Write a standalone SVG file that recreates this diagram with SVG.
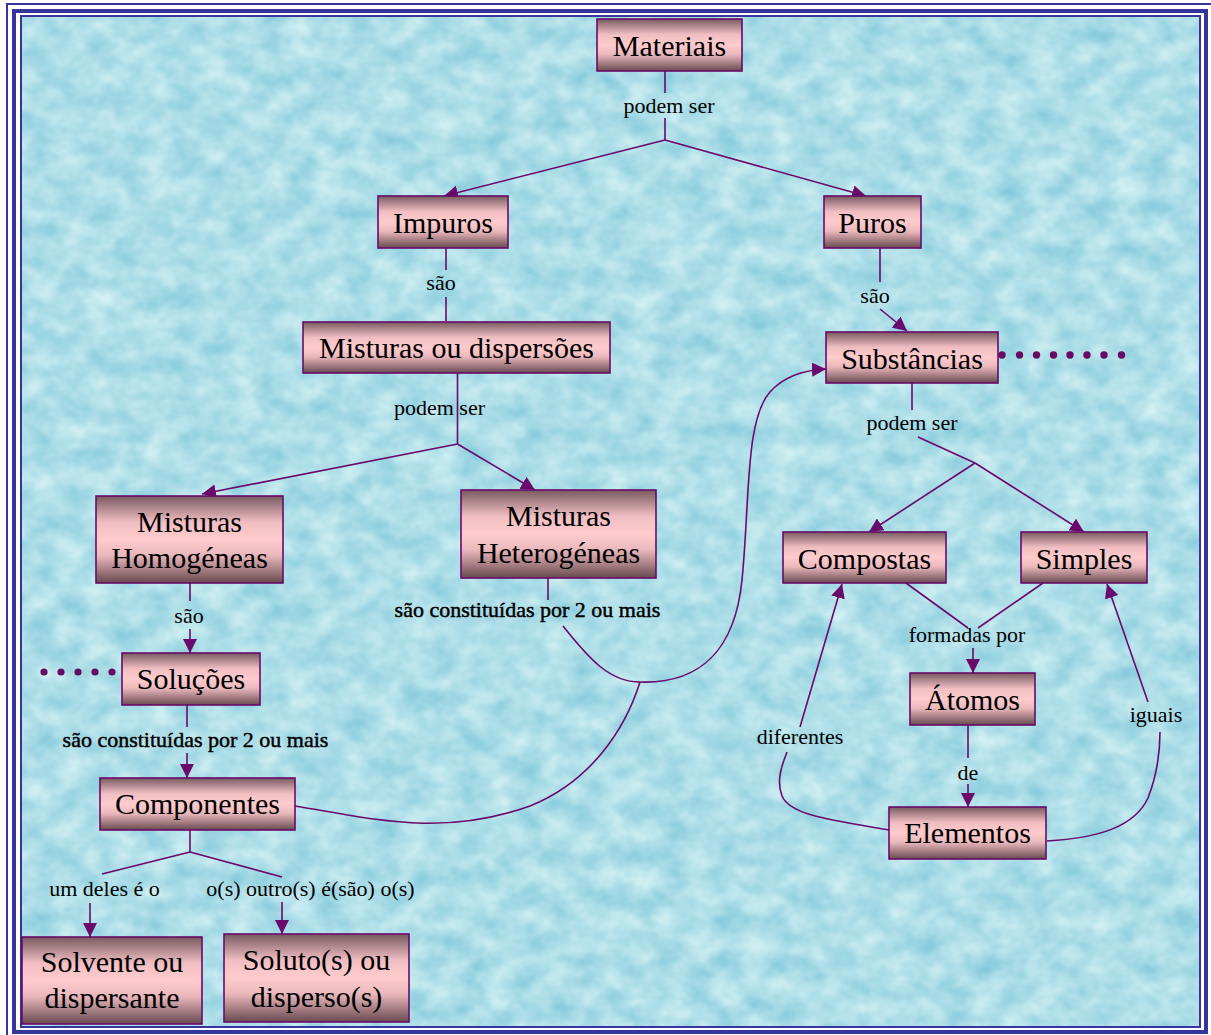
<svg xmlns="http://www.w3.org/2000/svg" width="1211" height="1035" viewBox="0 0 1211 1035">
<defs>
<style>
.frame{fill:none;stroke:#35359c}
.node rect{fill:url(#box);stroke:#6a0a6a;stroke-width:1.6}
.node text{font-family:"Liberation Serif","Times New Roman",serif;font-size:30px;text-anchor:middle;fill:#000}
.c{fill:none;stroke:#6a0a6a;stroke-width:1.6}
.a{marker-end:url(#arr)}
.lbl{font-family:"Liberation Serif","Times New Roman",serif;font-size:22px;text-anchor:middle;fill:#000}
.lblb{stroke:#000;stroke-width:0.45}
.dot{fill:#660a62}
</style>
<linearGradient id="box" x1="0" y1="0" x2="0" y2="1">
<stop offset="0" stop-color="#785a60"/>
<stop offset="0.3" stop-color="#f0bec2"/>
<stop offset="0.5" stop-color="#ffcbcd"/>
<stop offset="0.68" stop-color="#eab8bc"/>
<stop offset="1" stop-color="#684a50"/>
</linearGradient>
<marker id="arr" markerUnits="userSpaceOnUse" markerWidth="14" markerHeight="14" refX="14" refY="7" orient="auto">
<path d="M0,0 L14,7 L0,14 z" fill="#6a0a6a"/>
</marker>
<filter id="water" x="0" y="0" width="100%" height="100%" filterUnits="objectBoundingBox" color-interpolation-filters="sRGB">
<feTurbulence type="fractalNoise" baseFrequency="0.035 0.045" numOctaves="3" seed="7" result="n"/>
<feColorMatrix in="n" type="matrix" values="0.38 0 0 0 0.49  0.19 0 0 0 0.775  0.12 0 0 0 0.85  0 0 0 0 1"/>
</filter>
</defs>
<rect x="0" y="0" width="1211" height="1035" fill="#ffffff"/>
<rect x="22" y="17" width="1177" height="1009" fill="#abdde7"/>
<rect x="22" y="17" width="1177" height="1009" filter="url(#water)"/>
<rect class="frame" x="7" y="4" width="1212" height="1040" stroke-width="2"/>
<rect class="frame" x="14" y="11" width="1192" height="1021" stroke-width="4"/>
<rect class="frame" x="21" y="16" width="1179" height="1011" stroke-width="2"/>

<g id="connectors">
<path class="c" d="M665 71 V93 M665 118 V140"/>
<path class="c a" d="M665 140 L444 196"/>
<path class="c a" d="M665 140 L866 196"/>
<path class="c" d="M446 248 V270 M446 297 V321"/>
<path class="c" d="M880 248 V282"/>
<path class="c a" d="M880 309 L907 331"/>
<path class="c" d="M457.5 373 V444"/>
<path class="c a" d="M457.5 444 L202 494"/>
<path class="c a" d="M457.5 444 L535 490"/>
<path class="c" d="M190 583 V601"/>
<path class="c a" d="M190 629 V653"/>
<path class="c" d="M187 704 V727"/>
<path class="c a" d="M187 753 V778"/>
<path class="c" d="M548 578 V600"/>
<path class="c" d="M563 626 C590 660 610 682 640 682"/>
<path class="c" d="M295 806 C370 818 440 838 530 806 C590 782 625 730 640 682"/>
<path class="c a" d="M640 682 C700 684 735 650 742 580 C750 500 745 420 770 392 C785 375 805 370 826 369"/>
<path class="c" d="M912 383 V410"/>
<path class="c" d="M918 437 L975 463"/>
<path class="c a" d="M975 463 L869 532"/>
<path class="c a" d="M975 463 L1084 532"/>
<path class="c" d="M906 583 L968 628 M1043 583 L978 628"/>
<path class="c a" d="M973 648 V673"/>
<path class="c" d="M968 725 V758"/>
<path class="c a" d="M968 784 V807"/>
<path class="c" d="M889 830 C830 820 790 815 782 796 C776 780 782 765 787 752"/>
<path class="c a" d="M800 727 L842 584"/>
<path class="c" d="M1047 841 C1100 838 1135 826 1148 798 C1157 775 1160 750 1160 732"/>
<path class="c a" d="M1148 702 L1107 584"/>
<path class="c" d="M190 830 V852 M190 852 L102 874 M190 852 L282 877"/>
<path class="c a" d="M90 903 V937"/>
<path class="c a" d="M282 902 V934"/>
<circle class="dot" cx="44" cy="672" r="3.6"/>
<circle class="dot" cx="61" cy="672" r="3.6"/>
<circle class="dot" cx="78" cy="672" r="3.6"/>
<circle class="dot" cx="95" cy="672" r="3.6"/>
<circle class="dot" cx="112" cy="672" r="3.6"/>
<circle class="dot" cx="1002" cy="355" r="3.7"/>
<circle class="dot" cx="1019.5" cy="355" r="3.7"/>
<circle class="dot" cx="1036.5" cy="355" r="3.7"/>
<circle class="dot" cx="1053.5" cy="355" r="3.7"/>
<circle class="dot" cx="1070" cy="355" r="3.7"/>
<circle class="dot" cx="1087" cy="355" r="3.7"/>
<circle class="dot" cx="1104" cy="355" r="3.7"/>
<circle class="dot" cx="1121.5" cy="355" r="3.7"/>
</g>

<g id="labels">
<text class="lbl" x="669" y="113">podem ser</text>
<text class="lbl" x="441" y="290">são</text>
<text class="lbl" x="875" y="303">são</text>
<text class="lbl" x="439.5" y="415">podem ser</text>
<text class="lbl" x="912" y="430">podem ser</text>
<text class="lbl" x="189" y="623">são</text>
<text class="lbl lblb" x="527.5" y="617">são constituídas por 2 ou mais</text>
<text class="lbl lblb" x="195.5" y="747">são constituídas por 2 ou mais</text>
<text class="lbl" x="967" y="642">formadas por</text>
<text class="lbl" x="800" y="744">diferentes</text>
<text class="lbl" x="1156" y="722">iguais</text>
<text class="lbl" x="968" y="780">de</text>
<text class="lbl" x="104.5" y="896">um deles é o</text>
<text class="lbl" x="310.5" y="896">o(s) outro(s) é(são) o(s)</text>
</g>

<g id="n-materiais" class="node"><rect x="597" y="19" width="145" height="52"/><text x="669.5" y="56">Materiais</text></g>
<g id="n-impuros" class="node"><rect x="378" y="196" width="130" height="52"/><text x="443" y="233">Impuros</text></g>
<g id="n-puros" class="node"><rect x="824" y="196" width="97" height="52"/><text x="872.5" y="233">Puros</text></g>
<g id="n-misturas" class="node"><rect x="303" y="322" width="307" height="51"/><text x="456.5" y="358">Misturas ou dispersões</text></g>
<g id="n-substancias" class="node"><rect x="826" y="332" width="172" height="51"/><text x="912" y="369">Substâncias</text></g>
<g id="n-homogeneas" class="node"><rect x="96" y="496" width="187" height="87"/><text x="189.5" y="532">Misturas</text><text x="189.5" y="568">Homogéneas</text></g>
<g id="n-heterogeneas" class="node"><rect x="461" y="490" width="195" height="88"/><text x="558.5" y="526">Misturas</text><text x="558.5" y="563">Heterogéneas</text></g>
<g id="n-compostas" class="node"><rect x="783" y="532" width="163" height="51"/><text x="864.5" y="569">Compostas</text></g>
<g id="n-simples" class="node"><rect x="1021" y="532" width="126" height="51"/><text x="1084" y="569">Simples</text></g>
<g id="n-solucoes" class="node"><rect x="122" y="653" width="138" height="52"/><text x="191" y="689">Soluções</text></g>
<g id="n-atomos" class="node"><rect x="910" y="673" width="125" height="52"/><text x="972.5" y="710">Átomos</text></g>
<g id="n-componentes" class="node"><rect x="100" y="778" width="195" height="52"/><text x="197.5" y="814">Componentes</text></g>
<g id="n-elementos" class="node"><rect x="889" y="807" width="157" height="52"/><text x="967.5" y="843">Elementos</text></g>
<g id="n-solvente" class="node"><rect x="22" y="937" width="180" height="87"/><text x="112" y="972">Solvente ou</text><text x="112" y="1008">dispersante</text></g>
<g id="n-soluto" class="node"><rect x="224" y="934" width="185" height="88"/><text x="316.5" y="970">Soluto(s) ou</text><text x="316.5" y="1007">disperso(s)</text></g>
</svg>
